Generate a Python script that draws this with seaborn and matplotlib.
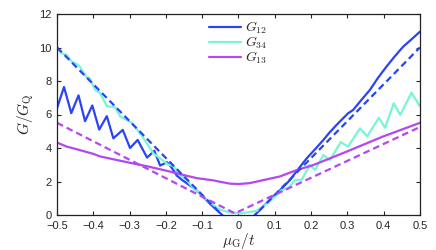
import numpy as np
import pandas as pd
import matplotlib
matplotlib.use("Agg")
import matplotlib.pyplot as plt
import seaborn as sns

# G12 (solid, with oscillations on the left)
x12 = [-0.5, -0.481, -0.461, -0.441, -0.423, -0.403, -0.384, -0.363, -0.345, -0.319,
       -0.299, -0.278, -0.252, -0.232, -0.216, -0.197, -0.185, -0.17, -0.156, -0.12,
       -0.1, -0.08, -0.06, -0.045, -0.02, 0.02, 0.045, 0.07, 0.096, 0.12,
       0.142, 0.165, 0.188, 0.21, 0.234, 0.25, 0.27, 0.302, 0.316, 0.34,
       0.362, 0.385, 0.408, 0.43, 0.454, 0.475, 0.5]
g12 = [6.4, 7.64, 6.08, 7.14, 5.6, 6.54, 5.1, 5.9, 4.58, 5.08,
       4.0, 4.48, 3.43, 3.83, 2.95, 3.15, 2.85, 2.35, 2.1, 1.55,
       1.15, 0.7, 0.3, 0.0, -1.0, -1.0, 0.0, 0.55, 1.09, 1.6,
       2.09, 2.75, 3.38, 3.9, 4.48, 4.9, 5.37, 6.07, 6.27, 6.9,
       7.46, 8.2, 8.86, 9.45, 10.05, 10.45, 10.94]

# G34 (solid)
x34 = [-0.5, -0.487, -0.473, -0.46, -0.445, -0.437, -0.42, -0.41, -0.395, -0.382,
       -0.363, -0.34, -0.326, -0.31, -0.294, -0.276, -0.262, -0.253, -0.235, -0.216,
       -0.193, -0.18, -0.161, -0.143, -0.124, -0.106, -0.088, -0.069, -0.051, -0.023,
       0.004, 0.032, 0.05, 0.068, 0.096, 0.119, 0.137, 0.156, 0.174, 0.197,
       0.211, 0.234, 0.252, 0.282, 0.302, 0.335, 0.355, 0.387, 0.404, 0.428,
       0.446, 0.477, 0.5]
g34 = [9.9, 9.65, 9.55, 9.15, 9.0, 8.85, 8.26, 8.16, 7.46, 7.3,
       6.5, 6.43, 5.87, 5.7, 5.5, 5.0, 4.58, 4.3, 3.68, 3.38,
       2.99, 2.95, 2.39, 2.09, 1.59, 1.29, 0.9, 0.6, 0.32, 0.14,
       0.1, 0.18, 0.25, 0.5, 1.0, 1.49, 1.6, 2.09, 2.1, 2.99,
       2.69, 3.58, 3.28, 4.35, 4.08, 5.17, 4.7, 5.8, 5.2, 6.67,
       5.97, 7.3, 6.5]

# G13 (solid)
x13 = [-0.5, -0.473, -0.45, -0.4, -0.382, -0.35, -0.3, -0.25, -0.2, -0.15,
       -0.115, -0.07, -0.05, -0.023, 0.0, 0.03, 0.068, 0.114, 0.16, 0.206,
       0.252, 0.3, 0.35, 0.4, 0.45, 0.5]
g13 = [4.32, 4.08, 3.95, 3.65, 3.5, 3.35, 3.12, 2.9, 2.65, 2.38,
       2.2, 2.07, 1.98, 1.87, 1.85, 1.9, 2.08, 2.3, 2.68, 2.98,
       3.38, 3.8, 4.25, 4.7, 5.1, 5.5]

# dashed references
xd12 = [-0.5, 0.0, 0.5]
d12 = [10.0, -1.0, 10.0]
xd13 = [-0.5, -0.01, 0.5]
d13 = [5.5, 0.1, 5.25]

c12 = "#2a44f4"
c34 = "#78f5d4"
c13 = "#b347f2"

sns.set_style("ticks")
plt.rcParams["font.family"] = ["Liberation Sans", "DejaVu Sans"]
plt.rcParams["mathtext.fontset"] = "cm"
plt.rcParams["xtick.direction"] = "in"
plt.rcParams["ytick.direction"] = "in"
plt.rcParams["xtick.top"] = True
plt.rcParams["ytick.right"] = True

fig = plt.figure(figsize=(4.36, 2.5), dpi=100)
ax = fig.add_axes([0.131, 0.14, 0.832, 0.804])

sns.lineplot(x=x12, y=g12, color=c12, lw=1.6, label="$G_{12}$", ax=ax)
sns.lineplot(x=x34, y=g34, color=c34, lw=1.6, label="$G_{34}$", ax=ax)
sns.lineplot(x=x13, y=g13, color=c13, lw=1.6, label="$G_{13}$", ax=ax)
sns.lineplot(x=xd12, y=d12, color=c12, lw=1.6, ax=ax, legend=False)
ax.lines[-1].set_dashes([3, 1.8])
sns.lineplot(x=xd13, y=d13, color=c13, lw=1.6, ax=ax, legend=False)
ax.lines[-1].set_dashes([3, 1.8])

ax.set_xlim(-0.5, 0.5)
ax.set_ylim(0, 12)
ax.set_xticks(np.arange(-0.5, 0.51, 0.1))
ax.set_xticklabels(["\u22120.5", "\u22120.4", "\u22120.3", "\u22120.2", "\u22120.1",
                    "0", "0.1", "0.2", "0.3", "0.4", "0.5"])
ax.set_yticks(range(0, 13, 2))
ax.tick_params(labelsize=8, length=3, width=0.8, pad=4)
for s in ax.spines.values():
    s.set_linewidth(0.9)
    s.set_color("#222222")

ax.set_xlabel(r"$\mu_{\rm G}/t$", fontsize=11, labelpad=0)
ax.set_ylabel(r"$G/G_{\rm Q}$", fontsize=11, labelpad=2)

ax.legend(loc="upper center", bbox_to_anchor=(0.5, 1.025), frameon=False,
          fontsize=10, handlelength=2.3, handletextpad=0.3, labelspacing=-0.1,
          borderpad=0.3)

fig.savefig("out.png", dpi=100)
